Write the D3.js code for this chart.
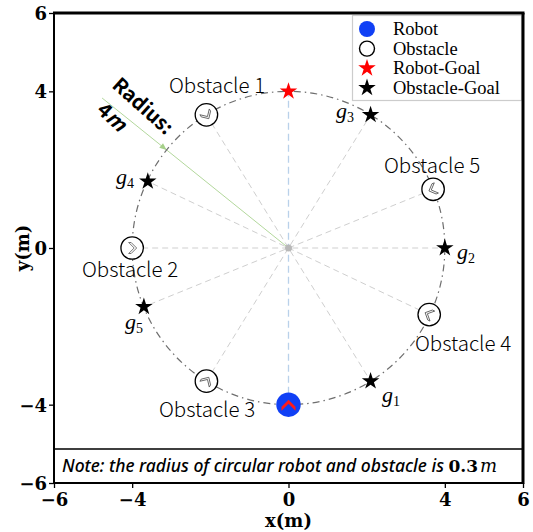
<!DOCTYPE html>
<html>
<head>
<meta charset="utf-8">
<script src="https://cdn.jsdelivr.net/npm/d3@7"></script>
<style>
  html, body { margin: 0; padding: 0; background: #fff; }
  svg { display: block; }
</style>
</head>
<body>
<svg id="chart" width="533" height="532"></svg>
<script>
// Scenario layout: robot, robot goal, obstacles and their goals on a 4 m circle
const circleRadius = 4;
const bodyRadius = 0.3;
const robotPos = [0, -4];
const robotGoalPos = [0, 4];
const obstacleNames = ["Obstacle 1", "Obstacle 2", "Obstacle 3", "Obstacle 4", "Obstacle 5"];
const obstacleX = [-2.1, -4.0, -2.1, 3.6, 3.7];
const obstacleY = [3.4, 0.0, -3.4, -1.7, 1.5];
const goalNames = ["1", "2", "3", "4", "5"];
const goalX = [2.1, 4.0, 2.1, -3.6, -3.7];
const goalY = [-3.4, 0.0, 3.4, 1.7, -1.5];
const radiusLabelEnd = [-4.77, 3.83];
const tickValues = [-6, -4, 0, 4, 6];
const legendLabels = ["Robot", "Obstacle", "Robot-Goal", "Obstacle-Goal"];

const svg = d3.select("#chart");
const x = d3.scaleLinear().domain([-6, 6]).range([54, 523]);
const y = d3.scaleLinear().domain([-6, 6]).range([483, 13]);

const serifBold = "'DejaVu Serif', serif";
const labelFont = "'Noto Sans CJK SC', 'Noto Sans', sans-serif";

// Diameters linking each agent with its goal
const pairs = obstacleX.map((ox, i) => ({ x1: ox, y1: obstacleY[i], x2: goalX[i], y2: goalY[i] }));
svg.append("g").selectAll("line").data(pairs).join("line")
  .attr("x1", d => x(d.x1)).attr("y1", d => y(d.y1))
  .attr("x2", d => x(d.x2)).attr("y2", d => y(d.y2))
  .attr("stroke", "#cfcfcf").attr("stroke-width", 1)
  .attr("stroke-dasharray", "6,4");
svg.append("line")
  .attr("x1", x(robotPos[0])).attr("y1", y(robotPos[1]))
  .attr("x2", x(robotGoalPos[0])).attr("y2", y(robotGoalPos[1]))
  .attr("stroke", "#b9d1ea").attr("stroke-width", 1.3)
  .attr("stroke-dasharray", "7,4");

// Radius indicator
svg.append("line")
  .attr("x1", x(0)).attr("y1", y(0))
  .attr("x2", x(radiusLabelEnd[0])).attr("y2", y(radiusLabelEnd[1]))
  .attr("stroke", "#b3d89c").attr("stroke-width", 1);
const ang = Math.atan2(radiusLabelEnd[1], radiusLabelEnd[0]);
const tip = [x(circleRadius * Math.cos(ang)), y(circleRadius * Math.sin(ang))];
const dirDeg = Math.atan2(y(0) - tip[1], x(0) - tip[0]) * 180 / Math.PI;
svg.append("path")
  .attr("d", "M0,0 L-7,-3 L-7,3 Z")
  .attr("transform", `translate(${tip[0]},${tip[1]}) rotate(${dirDeg})`)
  .attr("fill", "#a6d08a");

// Center point
svg.append("circle").attr("cx", x(0)).attr("cy", y(0)).attr("r", 3.5).attr("fill", "#b8b8b8");

// Dash-dot ring
svg.append("ellipse")
  .attr("cx", x(0)).attr("cy", y(0))
  .attr("rx", x(circleRadius) - x(0)).attr("ry", y(0) - y(circleRadius))
  .attr("fill", "none").attr("stroke", "#6e6e6e").attr("stroke-width", 1.2)
  .attr("stroke-dasharray", "7,4,1.5,4");

// Radius text
svg.append("text").attr("transform", "translate(143,106) rotate(42)")
  .attr("text-anchor", "middle").attr("font-family", labelFont)
  .attr("font-weight", "bold").attr("font-size", 20).attr("dy", "0.35em").text("Radius:");
const rt2 = svg.append("text").attr("transform", "translate(112,117) rotate(42)")
  .attr("text-anchor", "middle").attr("font-size", 20).attr("font-weight", "bold").attr("dy", "0.35em");
rt2.append("tspan").attr("font-family", labelFont).text("4");
rt2.append("tspan").attr("font-family", labelFont).attr("font-style", "italic").text("m");

// Chevron glyph pointing along +x
const chevron = "M4.5,0 L-1,-5.5 L-3.5,-5.5 L2,0 L-3.5,5.5 L-1,5.5 Z";
const rPx = x(bodyRadius) - x(0);

// Obstacles
const obs = obstacleX.map((ox, i) => ({
  name: obstacleNames[i], x: ox, y: obstacleY[i], gx: goalX[i], gy: goalY[i]
}));
const og = svg.append("g").selectAll("g").data(obs).join("g")
  .attr("transform", d => `translate(${x(d.x)},${y(d.y)})`);
og.append("circle").attr("r", rPx - 0.5).attr("fill", "#fff")
  .attr("stroke", "#000").attr("stroke-width", 1.3);
og.append("path").attr("d", chevron)
  .attr("transform", d => {
    const a = Math.atan2(y(d.gy) - y(d.y), x(d.gx) - x(d.x)) * 180 / Math.PI;
    return `rotate(${a})`;
  })
  .attr("fill", "#fff").attr("stroke", "#555").attr("stroke-width", 0.8);

// Obstacle names
const obstacleLabelPos = [[217, 93], [130, 277], [207, 417], [463, 351], [432, 173]];
svg.append("g").selectAll("text").data(obs).join("text")
  .attr("x", (d, i) => obstacleLabelPos[i][0]).attr("y", (d, i) => obstacleLabelPos[i][1])
  .attr("text-anchor", "middle").attr("font-family", labelFont).attr("font-size", 20.5)
  .attr("font-weight", 300).attr("fill", "#000")
  .text(d => d.name);

// Robot
svg.append("circle").attr("cx", x(robotPos[0])).attr("cy", y(robotPos[1]))
  .attr("r", rPx + 0.5).attr("fill", "#1040f5");
svg.append("path")
  .attr("d", "M0,-5 L7,2 L7,6 L0,-1 L-7,6 L-7,2 Z")
  .attr("transform", `translate(${x(robotPos[0])},${y(robotPos[1])})`)
  .attr("fill", "#ff1a1a");

// Goals
const star = d3.symbol().type(d3.symbolStar).size(95);
svg.append("path").attr("d", star())
  .attr("transform", `translate(${x(robotGoalPos[0])},${y(robotGoalPos[1])})`)
  .attr("fill", "#ff0000");
const goals = goalX.map((gx, i) => ({ x: gx, y: goalY[i], name: goalNames[i] }));
svg.append("g").selectAll("path").data(goals).join("path")
  .attr("d", star())
  .attr("transform", d => `translate(${x(d.x)},${y(d.y)})`)
  .attr("fill", "#000");

const goalLabelPos = [[382, 402], [457, 259], [336, 118], [116, 184], [125, 329]];
const gl = svg.append("g").selectAll("text").data(goals).join("text")
  .attr("x", (d, i) => goalLabelPos[i][0]).attr("y", (d, i) => goalLabelPos[i][1])
  .attr("font-family", "'Liberation Serif', serif").attr("font-style", "italic")
  .attr("font-size", 22);
gl.append("tspan").text("g");
gl.append("tspan").attr("font-size", 14).attr("font-style", "normal").attr("dy", 4).text(d => d.name);

// Note box
svg.append("rect").attr("x", x(-6)).attr("y", 449).attr("width", x(6) - x(-6)).attr("height", y(-6) - 449)
  .attr("fill", "#fff").attr("stroke", "#000").attr("stroke-width", 1.5);
const note = svg.append("text").attr("x", 62).attr("y", 472).attr("font-size", 17.5);
note.append("tspan").attr("font-family", "'Noto Sans', sans-serif").attr("font-style", "italic")
  .attr("font-weight", 500).text("Note: the radius of circular robot and obstacle is ");
note.append("tspan").attr("font-family", serifBold).attr("font-weight", "bold").attr("font-size", 17).text(String(bodyRadius));
note.append("tspan").attr("font-family", "'DejaVu Serif', serif").attr("font-style", "italic").attr("font-size", 18).attr("dx", 2).text("m");

// Legend
const lg = svg.append("g");
lg.append("rect").attr("x", 352.5).attr("y", 15.5).attr("width", 169).attr("height", 85)
  .attr("fill", "#fff").attr("stroke", "#cccccc").attr("stroke-width", 1.2);
const legendRows = legendLabels.map((t, i) => ({ t, i }));
const lr = lg.selectAll("g").data(legendRows).join("g")
  .attr("transform", d => `translate(367,${29 + d.i * 19.6})`);
lr.append("text").attr("x", 26).attr("y", 6).attr("font-family", "'Liberation Serif', serif")
  .attr("font-size", 18.5).text(d => d.t);
lr.filter(d => d.i === 0).append("circle").attr("r", 8).attr("fill", "#1040f5");
lr.filter(d => d.i === 1).append("circle").attr("r", 7.5).attr("fill", "#fff").attr("stroke", "#000").attr("stroke-width", 1.4);
lr.filter(d => d.i === 2).append("path").attr("d", star()).attr("fill", "#ff0000");
lr.filter(d => d.i === 3).append("path").attr("d", star()).attr("fill", "#000");

// Axes
const xAxis = d3.axisBottom(x).tickValues(tickValues).tickSize(5).tickPadding(3)
  .tickFormat(d => d < 0 ? "\u2212" + Math.abs(d) : String(d));
const yAxis = d3.axisLeft(y).tickValues(tickValues).tickSize(5).tickPadding(2)
  .tickFormat(d => d < 0 ? "\u2212" + Math.abs(d) : String(d));
const gx = svg.append("g").attr("transform", `translate(0,${y(-6)})`).call(xAxis);
const gy = svg.append("g").attr("transform", `translate(${x(-6)},0)`).call(yAxis);
[gx, gy].forEach(g => {
  g.select(".domain").remove();
  g.selectAll(".tick line").attr("stroke", "#000").attr("stroke-width", 1.3);
  g.selectAll(".tick text").attr("font-family", serifBold).attr("font-weight", "bold")
    .attr("font-size", 18).attr("fill", "#000");
});
gx.selectAll(".tick text").attr("dy", "0.85em");
gy.selectAll(".tick text").attr("dy", "0.36em");

// Frame
svg.append("line").attr("x1", x(-6)).attr("x2", x(-6)).attr("y1", y(6)).attr("y2", y(-6)).attr("stroke", "#000").attr("stroke-width", 2);
svg.append("line").attr("x1", x(-6)).attr("x2", x(6)).attr("y1", y(-6)).attr("y2", y(-6)).attr("stroke", "#000").attr("stroke-width", 2);
svg.append("line").attr("x1", x(-6) - 1).attr("x2", x(6) + 1.5).attr("y1", y(6)).attr("y2", y(6)).attr("stroke", "#000").attr("stroke-width", 3);
svg.append("line").attr("x1", x(6)).attr("x2", x(6)).attr("y1", y(6)).attr("y2", y(-6) + 1).attr("stroke", "#000").attr("stroke-width", 3);

// Axis titles
svg.append("text").attr("x", x(0)).attr("y", 527).attr("text-anchor", "middle")
  .attr("font-family", serifBold).attr("font-weight", "bold").attr("font-size", 18).text("x(m)");
svg.append("text").attr("transform", `translate(29,${y(0)}) rotate(-90)`).attr("text-anchor", "middle")
  .attr("font-family", serifBold).attr("font-weight", "bold").attr("font-size", 18).text("y(m)");
</script>
</body>
</html>
